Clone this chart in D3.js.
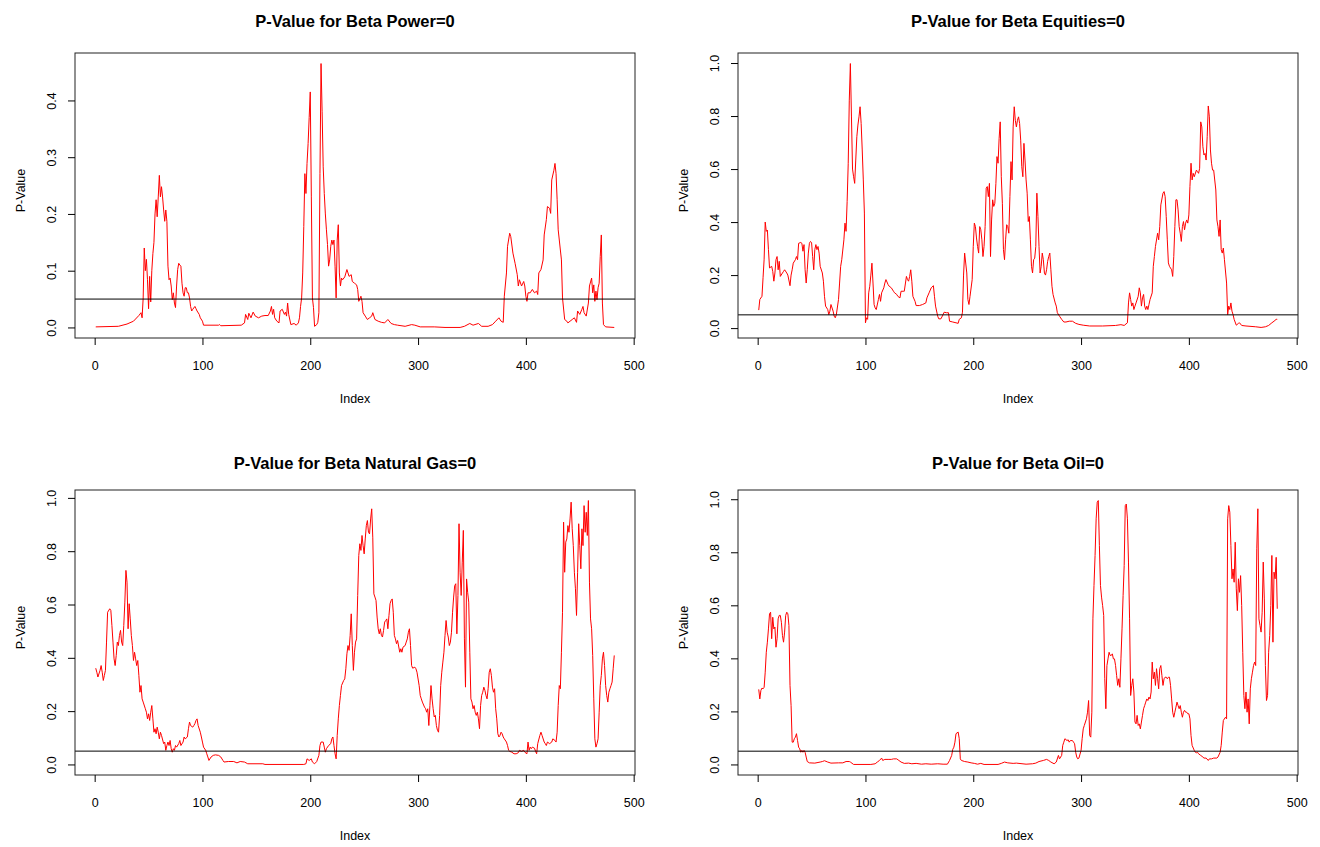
<!DOCTYPE html>
<html>
<head>
<meta charset="utf-8">
<script src="https://cdn.jsdelivr.net/npm/d3@7.9.0/dist/d3.min.js"></script>
<style>
  body { margin: 0; background: #fff; }
  svg { display: block; font-family: "Liberation Sans", Arial, sans-serif; }
  .tick line { stroke: #000; }
  .tick text { font-size: 12.5px; fill: #000; }
</style>
</head>
<body>
<svg id="chart" width="1320" height="847"></svg>
<script>
// index / p-value pairs
const powerPts = [[1,0.001],[22,0.002],[30,0.006],[36,0.011],[41,0.021],[43,0.026],[44,0.017],[45,0.052],[46,0.14],[47,0.10],[48,0.12],[49,0.084],[50,0.033],[51,0.09],[52,0.045],[53,0.10],[54,0.13],[55,0.15],[56,0.20],[57,0.225],[58,0.195],[59,0.23],[60,0.268],[61,0.23],[62,0.248],[63,0.23],[64,0.207],[65,0.187],[66,0.207],[67,0.187],[68,0.108],[69,0.084],[70,0.087],[71,0.073],[72,0.049],[73,0.061],[74,0.043],[75,0.035],[76,0.073],[77,0.102],[78,0.113],[79,0.11],[80,0.108],[81,0.078],[82,0.061],[83,0.055],[84,0.07],[85,0.07],[86,0.061],[87,0.061],[88,0.052],[89,0.037],[90,0.029],[91,0.032],[93,0.037],[94,0.033],[95,0.029],[97,0.023],[98,0.017],[100,0.011],[101,0.004],[115,0.004],[116,0.005],[117,0.003],[136,0.004],[139,0.008],[140,0.023],[142,0.014],[143,0.025],[145,0.017],[147,0.027],[149,0.02],[152,0.017],[155,0.02],[158,0.021],[161,0.021],[163,0.029],[164,0.037],[165,0.023],[166,0.032],[167,0.017],[169,0.011],[171,0.008],[172,0.029],[174,0.032],[176,0.023],[177,0.027],[178,0.02],[179,0.043],[180,0.023],[182,0.005],[185,0.007],[187,0.004],[189,0.008],[190,0.017],[191,0.037],[192,0.052],[193,0.096],[194,0.178],[195,0.271],[196,0.236],[197,0.289],[198,0.324],[199,0.37],[200,0.415],[201,0.23],[202,0.052],[203,0.035],[204,0.002],[206,0.005],[207,0.009],[208,0.026],[209,0.271],[210,0.465],[211,0.38],[212,0.283],[213,0.236],[214,0.2],[215,0.172],[216,0.146],[217,0.108],[218,0.119],[219,0.143],[220,0.154],[221,0.146],[222,0.154],[223,0.108],[224,0.052],[225,0.154],[226,0.181],[227,0.096],[228,0.073],[229,0.087],[230,0.084],[232,0.089],[234,0.102],[235,0.096],[236,0.09],[238,0.093],[239,0.081],[241,0.078],[243,0.075],[244,0.067],[245,0.046],[247,0.055],[248,0.046],[249,0.026],[251,0.02],[253,0.014],[255,0.017],[257,0.02],[258,0.026],[260,0.014],[263,0.011],[266,0.009],[269,0.008],[272,0.014],[275,0.007],[278,0.005],[281,0.004],[288,0.002],[294,0.005],[297,0.004],[302,0.001],[315,0.001],[325,0],[339,0],[343,0.002],[348,0.007],[351,0.004],[356,0.007],[359,0.002],[365,0.002],[369,0.005],[372,0.011],[375,0.017],[377,0.011],[379,0.009],[380,0.055],[382,0.096],[383,0.143],[385,0.166],[386,0.16],[388,0.131],[390,0.113],[392,0.093],[393,0.073],[394,0.084],[396,0.073],[398,0.081],[399,0.073],[400,0.055],[401,0.046],[402,0.061],[404,0.061],[406,0.067],[408,0.061],[410,0.064],[411,0.058],[412,0.096],[414,0.102],[416,0.119],[417,0.163],[419,0.19],[420,0.213],[422,0.21],[423,0.201],[424,0.26],[426,0.277],[427,0.289],[428,0.271],[429,0.225],[430,0.172],[433,0.119],[434,0.052],[436,0.014],[438,0.011],[439,0.008],[441,0.011],[443,0.014],[445,0.017],[447,0.009],[448,0.029],[450,0.023],[452,0.032],[453,0.037],[454,0.026],[456,0.02],[458,0.043],[459,0.073],[461,0.087],[462,0.061],[463,0.075],[464,0.046],[465,0.064],[466,0.049],[467,0.07],[468,0.078],[469,0.125],[470,0.163],[471,0.043],[472,0.005],[474,0.001],[482,0]];

const equitiesPts = [[1,0.068],[2,0.108],[4,0.12],[5,0.19],[6,0.26],[7,0.40],[8,0.365],[9,0.37],[10,0.296],[11,0.227],[13,0.233],[14,0.214],[15,0.177],[16,0.208],[17,0.258],[18,0.27],[19,0.22],[20,0.252],[21,0.195],[23,0.208],[24,0.214],[25,0.22],[27,0.208],[28,0.2],[30,0.16],[31,0.2],[32,0.22],[33,0.245],[35,0.258],[36,0.27],[37,0.258],[38,0.32],[40,0.323],[41,0.32],[42,0.29],[43,0.315],[44,0.22],[45,0.17],[46,0.22],[47,0.283],[48,0.32],[49,0.327],[50,0.323],[51,0.27],[52,0.22],[53,0.296],[54,0.315],[55,0.296],[56,0.308],[57,0.283],[58,0.233],[60,0.208],[61,0.177],[62,0.12],[63,0.083],[65,0.07],[66,0.051],[67,0.064],[68,0.089],[70,0.064],[71,0.045],[72,0.039],[73,0.051],[75,0.108],[76,0.17],[77,0.233],[78,0.258],[80,0.333],[81,0.396],[82,0.365],[83,0.477],[84,0.62],[85,0.86],[86,0.998],[87,0.8],[88,0.6],[89,0.571],[90,0.546],[91,0.634],[92,0.722],[93,0.766],[94,0.797],[95,0.835],[96,0.772],[97,0.672],[98,0.559],[99,0.434],[100,0.02],[101,0.039],[102,0.033],[103,0.133],[104,0.158],[105,0.2],[106,0.245],[107,0.17],[108,0.089],[109,0.076],[110,0.07],[112,0.108],[113,0.127],[114,0.101],[115,0.133],[117,0.152],[118,0.17],[119,0.183],[121,0.164],[122,0.158],[124,0.152],[126,0.139],[127,0.133],[129,0.127],[130,0.12],[132,0.114],[133,0.139],[135,0.139],[136,0.139],[138,0.195],[139,0.183],[140,0.177],[141,0.195],[142,0.22],[143,0.177],[144,0.12],[146,0.101],[147,0.085],[150,0.085],[153,0.089],[156,0.095],[157,0.114],[159,0.133],[161,0.152],[163,0.16],[164,0.12],[165,0.083],[167,0.045],[168,0.035],[170,0.035],[172,0.051],[173,0.06],[175,0.058],[177,0.058],[178,0.026],[181,0.023],[184,0.02],[186,0.018],[187,0.033],[189,0.039],[190,0.06],[191,0.2],[192,0.283],[194,0.208],[195,0.108],[196,0.089],[197,0.12],[199,0.183],[200,0.308],[201,0.396],[202,0.383],[203,0.34],[204,0.308],[205,0.283],[206,0.383],[207,0.371],[208,0.333],[209,0.27],[210,0.308],[211,0.383],[212,0.528],[213,0.534],[214,0.496],[215,0.546],[216,0.27],[217,0.408],[218,0.484],[219,0.459],[220,0.471],[221,0.546],[222,0.647],[223,0.622],[224,0.716],[225,0.778],[226,0.571],[227,0.471],[228,0.296],[229,0.258],[230,0.333],[231,0.39],[232,0.383],[233,0.358],[234,0.496],[235,0.628],[236,0.559],[237,0.759],[238,0.835],[239,0.784],[240,0.759],[241,0.784],[242,0.797],[243,0.772],[244,0.709],[245,0.609],[246,0.571],[247,0.697],[248,0.634],[249,0.559],[250,0.509],[251,0.402],[252,0.421],[253,0.333],[254,0.233],[255,0.208],[256,0.258],[257,0.264],[258,0.308],[259,0.509],[260,0.421],[261,0.308],[262,0.208],[263,0.233],[264,0.283],[265,0.258],[266,0.208],[267,0.2],[268,0.22],[269,0.252],[270,0.27],[271,0.283],[272,0.22],[273,0.158],[274,0.127],[276,0.095],[277,0.083],[278,0.058],[280,0.045],[282,0.033],[284,0.023],[286,0.023],[289,0.026],[292,0.026],[295,0.018],[298,0.014],[302,0.011],[308,0.008],[320,0.008],[332,0.01],[337,0.013],[340,0.01],[343,0.02],[344,0.095],[345,0.133],[346,0.108],[347,0.083],[348,0.095],[349,0.07],[350,0.083],[351,0.095],[353,0.12],[354,0.152],[355,0.133],[356,0.083],[357,0.114],[358,0.127],[359,0.083],[360,0.07],[361,0.083],[362,0.07],[363,0.089],[364,0.108],[366,0.133],[367,0.233],[368,0.27],[369,0.308],[371,0.358],[372,0.333],[373,0.383],[374,0.465],[376,0.509],[377,0.515],[378,0.496],[379,0.421],[380,0.333],[381,0.246],[382,0.233],[384,0.22],[385,0.195],[386,0.27],[387,0.383],[388,0.484],[389,0.484],[390,0.446],[391,0.383],[392,0.358],[393,0.327],[394,0.383],[395,0.402],[396,0.371],[397,0.396],[398,0.408],[399,0.396],[400,0.427],[401,0.534],[402,0.622],[403,0.559],[404,0.584],[405,0.571],[407,0.596],[408,0.59],[409,0.584],[410,0.603],[411,0.778],[412,0.759],[413,0.684],[414,0.653],[415,0.659],[416,0.634],[417,0.722],[418,0.838],[419,0.797],[420,0.672],[421,0.622],[422,0.596],[423,0.596],[425,0.521],[426,0.408],[427,0.383],[428,0.346],[429,0.408],[430,0.296],[431,0.283],[432,0.302],[433,0.258],[435,0.17],[436,0.051],[437,0.083],[438,0.07],[439,0.095],[440,0.064],[441,0.051],[442,0.033],[444,0.011],[446,0.018],[447,0.02],[449,0.01],[453,0.008],[462,0.005],[467,0.0025],[471,0.005],[474,0.01],[477,0.02],[479,0.026],[481,0.033],[482,0.033]];

const gasPts = [[1,0.361],[2,0.346],[3,0.328],[5,0.353],[6,0.371],[7,0.346],[8,0.315],[9,0.334],[10,0.353],[11,0.459],[12,0.571],[14,0.584],[15,0.578],[16,0.521],[17,0.459],[18,0.396],[19,0.371],[20,0.409],[21,0.459],[22,0.446],[23,0.484],[24,0.503],[25,0.459],[26,0.446],[27,0.521],[28,0.609],[29,0.728],[30,0.684],[31,0.509],[32,0.603],[33,0.546],[34,0.484],[35,0.446],[36,0.39],[37,0.421],[38,0.396],[39,0.371],[40,0.39],[41,0.334],[42,0.271],[43,0.296],[44,0.246],[45,0.234],[47,0.209],[48,0.196],[49,0.171],[50,0.19],[51,0.165],[52,0.196],[53,0.221],[54,0.171],[55,0.121],[56,0.134],[57,0.115],[58,0.14],[59,0.121],[60,0.096],[61,0.121],[62,0.109],[64,0.078],[65,0.084],[66,0.053],[67,0.071],[68,0.084],[69,0.071],[70,0.09],[71,0.059],[72,0.046],[73,0.059],[74,0.053],[75,0.071],[76,0.065],[78,0.078],[79,0.09],[80,0.071],[82,0.084],[83,0.103],[84,0.096],[86,0.103],[87,0.134],[88,0.159],[89,0.146],[91,0.14],[92,0.146],[93,0.153],[94,0.165],[95,0.171],[96,0.146],[98,0.121],[99,0.103],[100,0.084],[101,0.065],[103,0.053],[104,0.04],[105,0.028],[106,0.015],[108,0.028],[110,0.034],[112,0.036],[115,0.034],[117,0.028],[119,0.015],[120,0.009],[124,0.011],[129,0.011],[132,0.006],[135,0.011],[139,0.009],[142,0.0025],[156,0.0025],[158,0],[194,0],[196,0.0025],[197,0.021],[199,0.015],[201,0.021],[202,0.009],[204,0.0025],[206,0.011],[208,0.034],[209,0.071],[210,0.084],[212,0.084],[213,0.065],[214,0.046],[215,0.059],[217,0.071],[219,0.078],[220,0.096],[221,0.103],[222,0.071],[223,0.04],[224,0.021],[225,0.109],[226,0.171],[227,0.221],[228,0.259],[229,0.296],[231,0.315],[232,0.321],[233,0.359],[234,0.415],[235,0.446],[236,0.428],[237,0.484],[238,0.565],[239,0.446],[240,0.353],[241,0.421],[242,0.459],[243,0.471],[244,0.634],[245,0.784],[246,0.828],[247,0.803],[248,0.859],[249,0.821],[250,0.79],[251,0.846],[252,0.896],[253,0.915],[254,0.871],[255,0.865],[256,0.921],[257,0.959],[258,0.85],[259,0.64],[260,0.628],[261,0.615],[262,0.553],[263,0.509],[264,0.49],[265,0.509],[266,0.484],[267,0.478],[268,0.503],[269,0.534],[270,0.54],[271,0.546],[272,0.509],[273,0.559],[274,0.603],[275,0.615],[276,0.621],[277,0.571],[278,0.484],[279,0.471],[280,0.453],[281,0.465],[283,0.421],[284,0.434],[285,0.421],[286,0.44],[288,0.446],[289,0.459],[290,0.471],[291,0.496],[292,0.509],[293,0.446],[294,0.371],[295,0.361],[297,0.365],[298,0.359],[299,0.346],[301,0.296],[302,0.259],[303,0.246],[304,0.234],[306,0.215],[307,0.209],[308,0.196],[309,0.209],[310,0.146],[311,0.221],[312,0.296],[313,0.246],[314,0.209],[315,0.178],[316,0.184],[317,0.146],[318,0.128],[319,0.121],[320,0.184],[321,0.296],[322,0.346],[323,0.384],[324,0.421],[325,0.484],[326,0.54],[327,0.496],[328,0.478],[329,0.446],[330,0.459],[331,0.496],[332,0.571],[333,0.628],[334,0.671],[335,0.678],[336,0.49],[337,0.634],[338,0.903],[339,0.721],[340,0.634],[341,0.759],[342,0.878],[343,0.471],[344,0.29],[345,0.696],[346,0.646],[347,0.609],[348,0.421],[349,0.246],[350,0.234],[351,0.209],[352,0.221],[353,0.196],[354,0.184],[355,0.196],[356,0.171],[357,0.134],[358,0.221],[359,0.259],[360,0.271],[361,0.29],[362,0.278],[363,0.259],[364,0.246],[365,0.284],[366,0.346],[367,0.359],[368,0.334],[369,0.29],[370,0.271],[371,0.284],[372,0.209],[373,0.171],[374,0.115],[375,0.103],[376,0.109],[377,0.121],[378,0.115],[379,0.103],[380,0.096],[382,0.084],[383,0.071],[384,0.053],[385,0.049],[387,0.046],[389,0.04],[391,0.04],[393,0.044],[394,0.053],[396,0.049],[398,0.053],[399,0.046],[401,0.04],[402,0.084],[403,0.053],[404,0.065],[405,0.059],[406,0.065],[408,0.061],[409,0.049],[410,0.04],[411,0.078],[413,0.109],[414,0.121],[415,0.109],[417,0.084],[418,0.078],[419,0.071],[420,0.084],[422,0.078],[424,0.084],[425,0.096],[427,0.09],[428,0.084],[429,0.121],[430,0.221],[431,0.296],[432,0.284],[433,0.421],[434,0.571],[435,0.909],[436,0.721],[437,0.834],[438,0.846],[439,0.896],[440,0.871],[441,0.921],[442,0.984],[443,0.884],[444,0.821],[445,0.721],[446,0.659],[447,0.559],[448,0.721],[449,0.903],[450,0.821],[451,0.734],[452,0.884],[453,0.821],[454,0.971],[455,0.871],[456,0.946],[457,0.859],[458,0.99],[459,0.684],[460,0.546],[461,0.509],[462,0.409],[463,0.246],[464,0.096],[465,0.065],[466,0.078],[467,0.096],[468,0.196],[469,0.296],[470,0.334],[471,0.396],[472,0.421],[473,0.371],[474,0.296],[475,0.259],[476,0.234],[477,0.271],[478,0.284],[479,0.296],[480,0.309],[481,0.359],[482,0.409]];

const oilPts = [[1,0.283],[2,0.247],[3,0.279],[4,0.288],[5,0.285],[6,0.291],[7,0.348],[8,0.423],[9,0.461],[10,0.511],[11,0.568],[12,0.574],[13,0.474],[14,0.555],[15,0.511],[16,0.518],[17,0.442],[18,0.474],[19,0.549],[20,0.562],[21,0.562],[22,0.536],[23,0.486],[24,0.461],[25,0.499],[26,0.562],[27,0.574],[28,0.568],[29,0.524],[30,0.298],[31,0.222],[32,0.084],[33,0.084],[34,0.097],[35,0.103],[36,0.116],[37,0.09],[38,0.065],[39,0.059],[40,0.046],[41,0.053],[42,0.046],[43,0.053],[44,0.046],[45,0.028],[46,0.011],[48,0.006],[53,0.005],[58,0.009],[60,0.011],[62,0.014],[65,0.009],[68,0.005],[75,0.006],[79,0.006],[82,0.011],[85,0.011],[86,0.009],[89,0],[105,0],[109,0.0025],[111,0.009],[113,0.015],[115,0.024],[116,0.015],[118,0.019],[121,0.019],[124,0.019],[126,0.021],[129,0.021],[131,0.015],[133,0.009],[136,0.004],[140,0.005],[143,0.0025],[147,0.004],[152,0.001],[156,0.0025],[161,0.001],[167,0.0025],[172,0.001],[176,0.001],[178,0.015],[180,0.034],[181,0.057],[182,0.065],[183,0.084],[184,0.116],[186,0.122],[187,0.097],[188,0.021],[189,0.015],[192,0.011],[195,0.009],[198,0.006],[201,0.004],[204,0.001],[207,0.004],[210,0],[223,0],[226,0.004],[229,0.009],[232,0.006],[237,0.004],[240,0.005],[249,0.001],[255,0.0025],[258,0.005],[261,0.011],[265,0.015],[268,0.019],[270,0.015],[272,0.009],[275,0.0025],[277,0.009],[279,0.034],[280,0.021],[282,0.034],[283,0.072],[284,0.084],[285,0.097],[287,0.09],[288,0.093],[289,0.084],[290,0.09],[292,0.09],[293,0.084],[294,0.078],[295,0.046],[296,0.028],[297,0.021],[298,0.024],[300,0.053],[301,0.097],[302,0.134],[303,0.147],[305,0.172],[306,0.197],[307,0.241],[308,0.109],[309,0.103],[310,0.197],[311,0.549],[312,0.675],[313,0.788],[314,0.926],[315,0.989],[316,0.995],[317,0.825],[318,0.675],[319,0.631],[320,0.599],[321,0.562],[322,0.323],[323,0.21],[324,0.373],[325,0.398],[326,0.423],[327,0.411],[328,0.411],[329,0.417],[330,0.398],[331,0.398],[332,0.373],[333,0.335],[334,0.298],[335,0.323],[336,0.291],[337,0.398],[338,0.511],[339,0.637],[340,0.75],[341,0.976],[342,0.982],[343,0.926],[344,0.763],[345,0.549],[346,0.26],[347,0.298],[348,0.323],[349,0.273],[350,0.16],[351,0.153],[352,0.185],[353,0.147],[354,0.153],[355,0.134],[356,0.16],[357,0.185],[358,0.21],[359,0.222],[360,0.235],[361,0.247],[362,0.241],[363,0.254],[364,0.247],[365,0.273],[366,0.386],[367,0.323],[368,0.348],[369,0.298],[370,0.361],[371,0.323],[372,0.285],[373,0.361],[374,0.373],[375,0.335],[376,0.298],[377,0.323],[378,0.329],[379,0.329],[380,0.323],[381,0.329],[382,0.329],[383,0.298],[384,0.247],[385,0.197],[386,0.178],[387,0.197],[388,0.216],[389,0.235],[390,0.222],[391,0.21],[392,0.222],[393,0.197],[394,0.178],[395,0.197],[396,0.204],[397,0.197],[398,0.197],[399,0.191],[400,0.191],[401,0.172],[402,0.109],[403,0.072],[405,0.053],[406,0.046],[407,0.044],[408,0.046],[409,0.04],[411,0.034],[413,0.028],[414,0.024],[416,0.024],[418,0.015],[419,0.021],[421,0.021],[423,0.024],[426,0.024],[427,0.028],[429,0.046],[430,0.072],[431,0.122],[432,0.166],[434,0.178],[435,0.172],[436,0.926],[437,0.976],[438,0.951],[439,0.825],[440,0.7],[441,0.737],[442,0.687],[443,0.838],[444,0.662],[445,0.58],[446,0.7],[447,0.649],[448,0.712],[449,0.599],[450,0.423],[451,0.26],[452,0.21],[453,0.273],[454,0.197],[455,0.247],[456,0.153],[457,0.285],[458,0.323],[459,0.348],[460,0.373],[461,0.386],[462,0.373],[463,0.813],[464,0.964],[465,0.549],[466,0.524],[467,0.499],[468,0.574],[469,0.763],[470,0.624],[471,0.373],[472,0.241],[473,0.26],[474,0.423],[475,0.486],[476,0.599],[477,0.788],[478,0.461],[479,0.725],[480,0.7],[481,0.781],[482,0.587]];

const titles = ['P-Value for Beta Power=0', 'P-Value for Beta Equities=0',
                'P-Value for Beta Natural Gas=0', 'P-Value for Beta Oil=0'];
const xTicks = [0, 100, 200, 300, 400, 500];
const yTicksPower = [0, 0.1, 0.2, 0.3, 0.4];
const yTicksUnit = [0, 0.2, 0.4, 0.6, 0.8, 1.0];
const cutoff = 0.05;

const W = 560, H = 285;
const panels = [
  { title: titles[0], pts: powerPts, yTicks: yTicksPower, left: 75, top: 53, titleY: -26.5 },
  { title: titles[1], pts: equitiesPts, yTicks: yTicksUnit, left: 738, top: 53, titleY: -26.5 },
  { title: titles[2], pts: gasPts, yTicks: yTicksUnit, left: 75, top: 490, titleY: -21 },
  { title: titles[3], pts: oilPts, yTicks: yTicksUnit, left: 738, top: 490, titleY: -21 },
];

// R-style axis range: data extent stretched by 4% on each side
function padded(ext) {
  let d = (ext[1] - ext[0]) * 0.04;
  return [ext[0] - d, ext[1] + d];
}

const svg = d3.select('#chart');

panels.forEach((p) => {
  let g = svg.append('g').attr('transform', `translate(${p.left},${p.top})`);

  let x = d3.scaleLinear().domain(padded(d3.extent(p.pts, (d) => d[0]))).range([0, W]);
  let y = d3.scaleLinear().domain(padded(d3.extent(p.pts, (d) => d[1]))).range([H, 0]);

  let line = d3.line().x((d) => x(d[0])).y((d) => y(d[1]));

  g.append('path')
    .datum(p.pts)
    .attr('d', line)
    .attr('fill', 'none')
    .attr('stroke', '#ff0000')
    .attr('stroke-width', 1);

  g.append('line')
    .attr('x1', 0).attr('x2', W)
    .attr('y1', y(cutoff)).attr('y2', y(cutoff))
    .attr('stroke', '#000')
    .attr('stroke-width', 1);

  g.append('rect')
    .attr('width', W).attr('height', H)
    .attr('fill', 'none')
    .attr('stroke', '#222')
    .attr('stroke-width', 1);

  let xAxis = g.append('g')
    .attr('transform', `translate(0,${H})`)
    .call(d3.axisBottom(x).tickValues(xTicks).tickSize(7).tickPadding(16));
  xAxis.select('.domain').remove();

  let yAxis = g.append('g')
    .call(d3.axisLeft(y).tickValues(p.yTicks).tickSize(7).tickFormat(d3.format('.1f')));
  yAxis.select('.domain').remove();
  yAxis.selectAll('text')
    .attr('x', null).attr('dy', null)
    .attr('text-anchor', 'middle')
    .attr('dominant-baseline', 'central')
    .attr('transform', 'translate(-23,0) rotate(-90)');

  g.append('text')
    .attr('x', W / 2).attr('y', p.titleY)
    .attr('text-anchor', 'middle')
    .attr('font-size', '16.5px')
    .attr('font-weight', 'bold')
    .text(p.title);

  g.append('text')
    .attr('x', W / 2).attr('y', H + 61)
    .attr('text-anchor', 'middle')
    .attr('dominant-baseline', 'central')
    .attr('font-size', '12.5px')
    .text('Index');

  g.append('text')
    .attr('transform', `translate(-54,${H / 2 - 5}) rotate(-90)`)
    .attr('text-anchor', 'middle')
    .attr('dominant-baseline', 'central')
    .attr('font-size', '12.5px')
    .text('P-Value');
});
</script>
</body>
</html>
